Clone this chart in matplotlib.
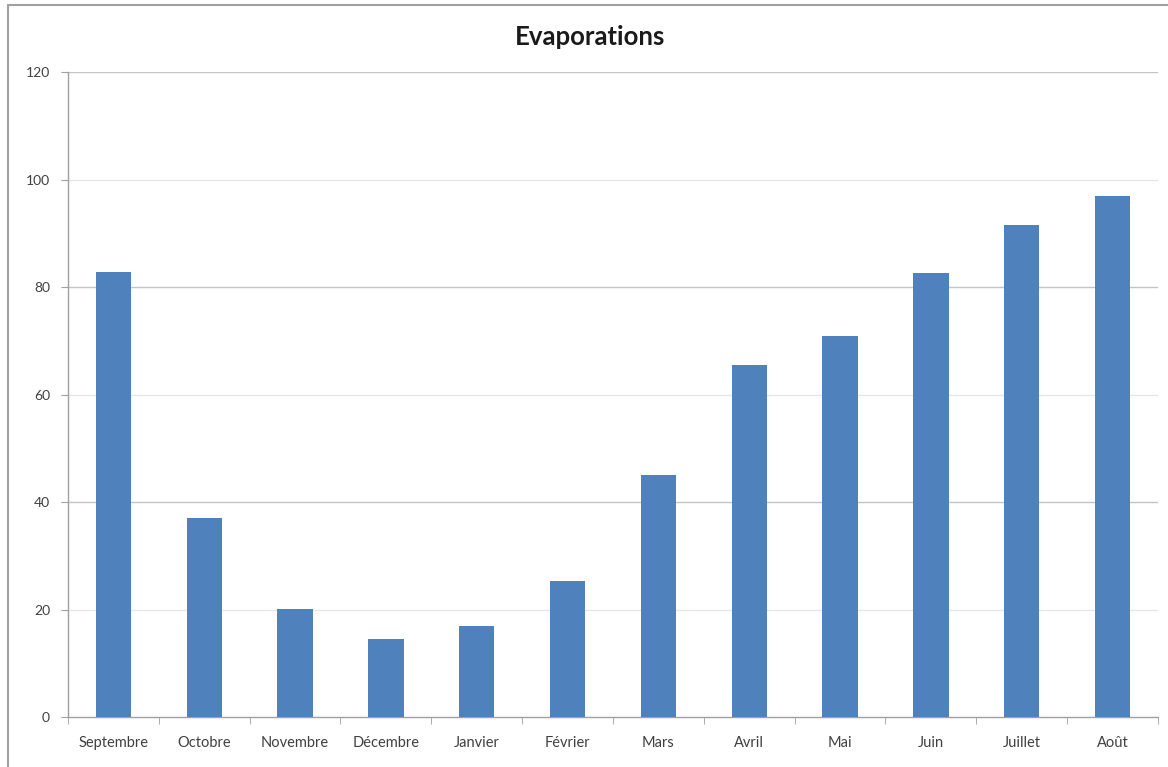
import matplotlib.pyplot as plt
from matplotlib.patches import Rectangle
import numpy as np

months = ["Septembre", "Octobre", "Novembre", "Décembre", "Janvier", "Février",
          "Mars", "Avril", "Mai", "Juin", "Juillet", "Août"]
evaporation = [82.8, 37.0, 20.1, 14.5, 16.9, 25.3, 45.0, 65.5, 70.9, 82.6, 91.5, 96.9]
y_ticks = [0, 20, 40, 60, 80, 100, 120]

plt.rcParams["font.family"] = ["Lato", "DejaVu Sans"]

fig = plt.figure(figsize=(11.68, 7.67), dpi=100)
ax = fig.add_axes([0.0582, 0.0652, 0.9332, 0.8408])

# outer chart frame (top/left edges visible)
fig.patches.append(Rectangle((0.007, -0.02), 1.1, 1.013, transform=fig.transFigure,
                             fill=False, edgecolor="#a0a0a0", linewidth=1.5))

x = np.arange(len(months))
ax.bar(x, evaporation, width=0.39, color="#4F81BD", zorder=3)

ax.set_xlim(-0.5, len(months) - 0.5)
ax.set_ylim(0, 120)
ax.set_yticks(y_ticks)
ax.set_yticklabels([str(v) for v in y_ticks], fontsize=10, color="#404040")
ax.set_xticks(x)
ax.set_xticklabels(months, fontsize=10.5, color="#404040")
ax.tick_params(axis="x", length=0, pad=14)
ax.tick_params(axis="y", length=5, color="#a0a0a0", pad=8)

# category boundary ticks on the x axis
ax.set_xticks(np.arange(-0.5, len(months)), minor=True)
ax.tick_params(axis="x", which="minor", length=5, color="#a0a0a0")

for v in y_ticks[1:]:
    col = "#c4c4c4" if v % 40 == 0 else "#e6e6e6"
    ax.axhline(v, color=col, linewidth=1.0, zorder=1)

for s in ["top", "right"]:
    ax.spines[s].set_visible(False)
for s in ["left", "bottom"]:
    ax.spines[s].set_color("#a0a0a0")
    ax.spines[s].set_linewidth(1.0)

fig.text(0.505, 0.952, "Evaporations", ha="center", va="center",
         fontsize=18.5, fontweight="bold", color="#1a1a1a")

fig.savefig("out.png", dpi=100)
